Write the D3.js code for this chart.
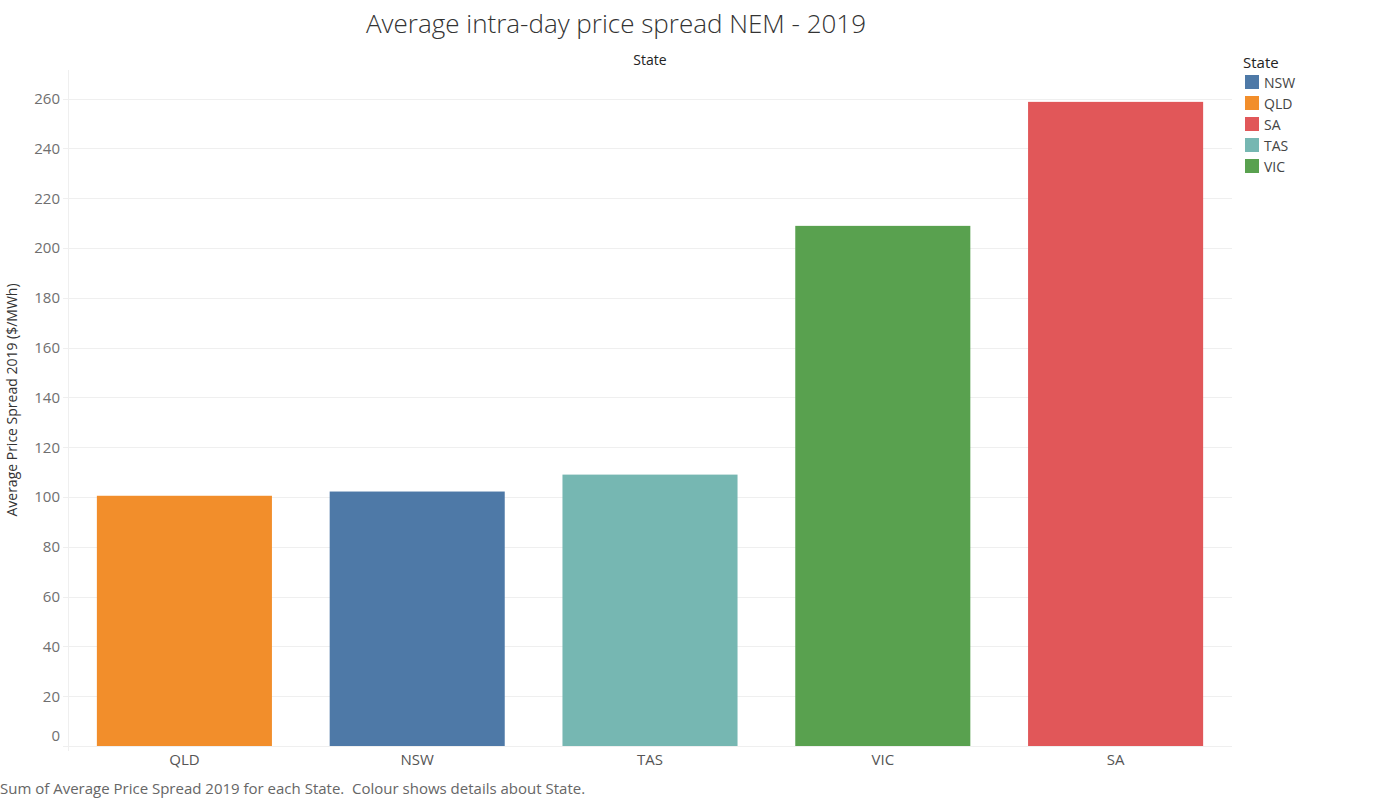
<!DOCTYPE html>
<html>
<head>
<meta charset="utf-8">
<script src="https://cdn.jsdelivr.net/npm/d3@7"></script>
<style>
  html, body { margin: 0; padding: 0; background: #fff; }
  svg { display: block; font-family: "Open Sans", "Noto Sans", sans-serif; }
</style>
</head>
<body>
<svg id="chart" width="1382" height="800"></svg>
<script>
// ---- data ----
const categories = ["QLD", "NSW", "TAS", "VIC", "SA"];
const values = [100.5, 102.2, 109.0, 208.9, 258.7];
const legendStates = ["NSW", "QLD", "SA", "TAS", "VIC"];
const legendColors = ["#4e79a7", "#f28e2b", "#e15759", "#76b7b2", "#59a14f"];
const yTicks = [0, 20, 40, 60, 80, 100, 120, 140, 160, 180, 200, 220, 240, 260];

const titleText = "Average intra-day price spread NEM - 2019";
const yTitle = "Average Price Spread 2019 ($/MWh)";
const xHeader = "State";
const caption = "Sum of Average Price Spread 2019 for each State.  Colour shows details about State.";

// ---- layout ----
const svg = d3.select("#chart");
const pLeft = 68, pRight = 1232, pTop = 70, pBottom = 746;

const color = d3.scaleOrdinal().domain(legendStates).range(legendColors);
const x = d3.scaleBand().domain(categories).range([pLeft, pRight])
  .paddingInner(0.248).paddingOuter(0.124);
const y = d3.scaleLinear().domain([0, 271.5]).range([pBottom, pTop]);

// gridlines
svg.append("g").selectAll("line").data(yTicks).join("line")
  .attr("x1", pLeft - 5).attr("x2", pRight)
  .attr("y1", d => Math.round(y(d)) + 0.5).attr("y2", d => Math.round(y(d)) + 0.5)
  .attr("stroke", "#efefef").attr("stroke-width", 1);

// vertical axis line
svg.append("line")
  .attr("x1", pLeft + 0.5).attr("x2", pLeft + 0.5)
  .attr("y1", pTop).attr("y2", pBottom + 5)
  .attr("stroke", "#efefef");

// y axis labels via d3 axis
const yAxis = d3.axisLeft(y).tickValues(yTicks).tickSize(0).tickPadding(8);
const yg = svg.append("g").attr("transform", `translate(${pLeft},0)`).call(yAxis);
yg.select(".domain").remove();
yg.selectAll("text")
  .attr("font-family", "\"Open Sans\", sans-serif")
  .attr("font-size", 15).attr("fill", "#6f6f6f")
  .attr("dy", d => d === 0 ? "-0.4em" : "0.32em");

// bars
svg.append("g").selectAll("rect").data(categories).join("rect")
  .attr("x", d => x(d))
  .attr("width", x.bandwidth())
  .attr("y", (d, i) => y(values[i]))
  .attr("height", (d, i) => y(0) - y(values[i]))
  .attr("fill", d => color(d));

// x axis labels via d3 axis
const xAxis = d3.axisBottom(x).tickSize(0).tickPadding(8);
const xg = svg.append("g").attr("transform", `translate(0,${pBottom})`).call(xAxis);
xg.select(".domain").remove();
xg.selectAll("text")
  .attr("font-family", "\"Open Sans\", sans-serif")
  .attr("font-size", 15).attr("fill", "#555");

// title
svg.append("text")
  .attr("x", 616).attr("y", 33)
  .attr("text-anchor", "middle")
  .attr("font-size", 26).attr("font-weight", 300)
  .attr("fill", "#333")
  .text(titleText);

// x header
svg.append("text")
  .attr("x", 650).attr("y", 65)
  .attr("text-anchor", "middle")
  .attr("font-size", 14)
  .attr("fill", "#222")
  .text(xHeader);

// y title
svg.append("text")
  .attr("transform", `translate(17,400) rotate(-90)`)
  .attr("text-anchor", "middle")
  .attr("font-size", 14)
  .attr("fill", "#333")
  .text(yTitle);

// caption
svg.append("text")
  .attr("x", 0).attr("y", 794)
  .attr("font-size", 15)
  .attr("fill", "#666")
  .style("white-space", "pre")
  .attr("xml:space", "preserve")
  .text(caption);

// legend
const lg = svg.append("g");
lg.append("text")
  .attr("x", 1243).attr("y", 68)
  .attr("font-size", 15).attr("fill", "#222")
  .text("State");
const items = lg.selectAll("g.item").data(legendStates).join("g")
  .attr("class", "item")
  .attr("transform", (d, i) => `translate(1245,${75 + i * 21})`);
items.append("rect").attr("width", 14).attr("height", 14).attr("fill", d => color(d));
items.append("text").attr("x", 19).attr("y", 12.5)
  .attr("font-size", 14).attr("fill", "#444")
  .text(d => d);
</script>
</body>
</html>
